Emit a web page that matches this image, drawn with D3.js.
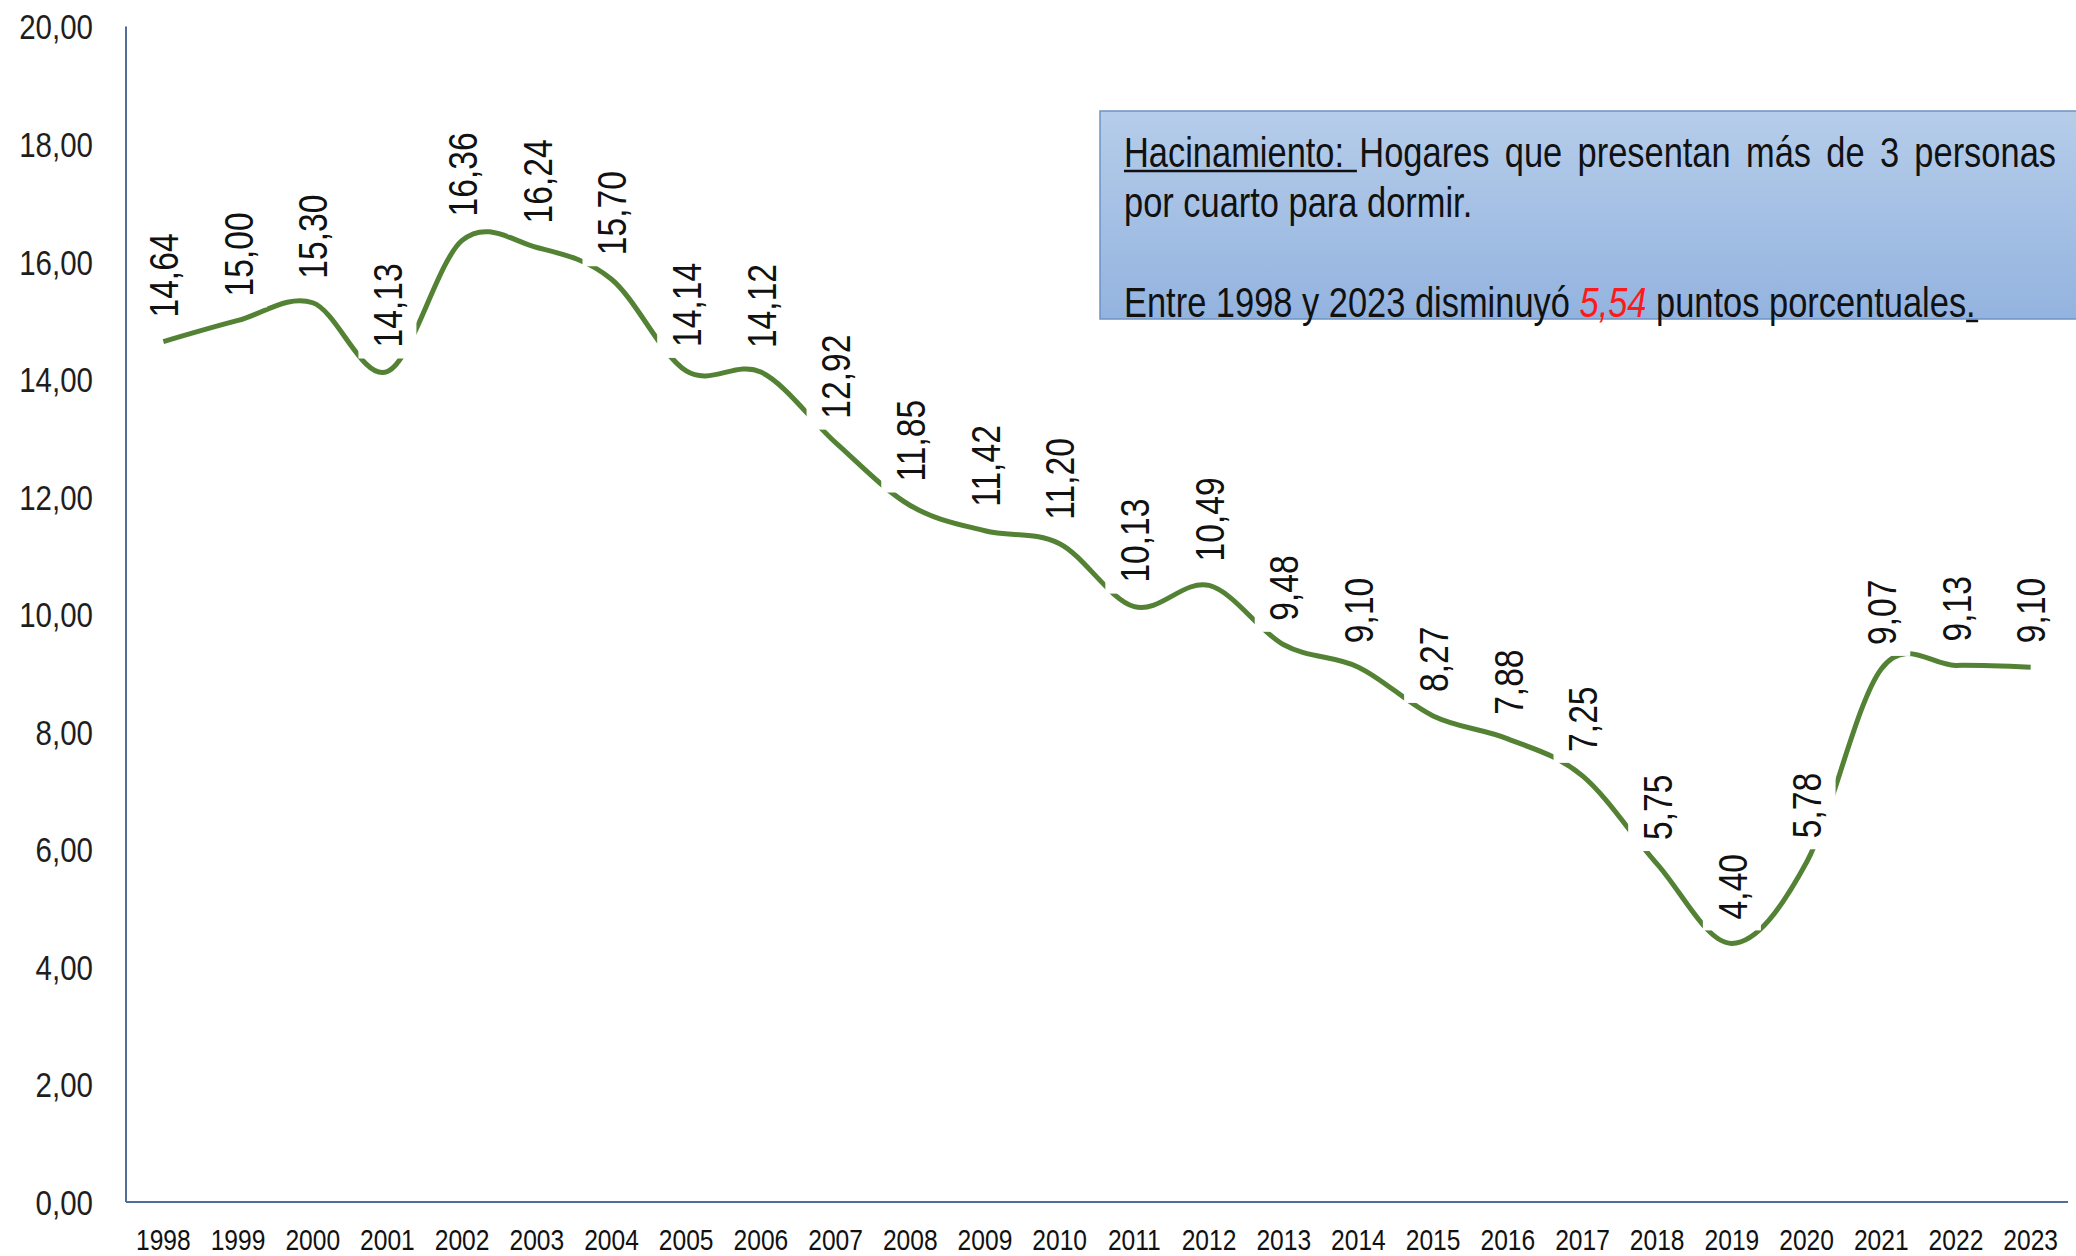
<!DOCTYPE html>
<head>
  <meta charset="utf-8">
  <title>Hacinamiento 1998-2023</title>
  <script src="https://d3js.org/d3.v7.min.js"></script>
  <style type="text/css">
    body { margin: 0; background: #fff; }
    svg { display: block; font-family: "Liberation Sans", Arial, sans-serif; }
    .axis-line { stroke: #4f6f95; stroke-width: 2px; fill: none; }
    .tick-label { font-size: 36px; fill: #1e1e1e; }
    .year-label { font-size: 30px; fill: #111; }
    .serie { fill: none; stroke: #548235; stroke-width: 5px; }
    .dato text { font-size: 41px; fill: #111; }
    .box-text { font-size: 42px; fill: #111; }
  </style>
</head>
<body>
  <div id="graph-container"></div>

<script>
// =================== Data ======================
const years = ["1998","1999","2000","2001","2002","2003","2004","2005","2006","2007","2008","2009","2010",
               "2011","2012","2013","2014","2015","2016","2017","2018","2019","2020","2021","2022","2023"];
const values = [14.64, 15.00, 15.30, 14.13, 16.36, 16.24, 15.70, 14.14, 14.12, 12.92, 11.85, 11.42, 11.20,
                10.13, 10.49, 9.48, 9.10, 8.27, 7.88, 7.25, 5.75, 4.40, 5.78, 9.07, 9.13, 9.10];
const yTicks = [0, 2, 4, 6, 8, 10, 12, 14, 16, 18, 20];

const noteLine1 = ["Hacinamiento:", "Hogares", "que", "presentan", "más", "de", "3", "personas"];
const noteLine2 = "por cuarto para dormir.";
const noteLine4 = ["Entre 1998 y 2023 disminuyó ", "5,54", " puntos porcentuales", "."];

// =================== Chart Prep ======================
let width = 2076,
    height = 1256,
    margin = { top: 26.5, right: 8, bottom: 54, left: 126 };

// the original uses a narrow font: squeeze Liberation Sans horizontally
const narrow = 0.82;

const fmt = d3.formatLocale({ decimal: ",", thousands: ".", grouping: [3], currency: ["", ""] }).format(".2f");

var svg = d3.select("#graph-container").append("svg")
    .attr("width", width)
    .attr("height", height);

var x = d3.scaleBand()
    .domain(years)
    .range([margin.left, width - margin.right]);

var y = d3.scaleLinear()
    .domain([0, 20])
    .range([height - margin.bottom, margin.top]);

// axis lines
svg.append("line").attr("class", "axis-line")
  .attr("x1", margin.left).attr("x2", margin.left)
  .attr("y1", y(20)).attr("y2", y(0));
svg.append("line").attr("class", "axis-line")
  .attr("x1", margin.left).attr("x2", width - margin.right)
  .attr("y1", y(0)).attr("y2", y(0));

// y tick labels
svg.selectAll(".tick-label")
    .data(yTicks)
  .enter().append("text")
    .attr("class", "tick-label")
    .attr("transform", d => "translate(" + (margin.left - 33) + "," + y(d) + ") scale(" + narrow + ",1)")
    .attr("dy", ".36em")
    .style("text-anchor", "end")
    .text(d => fmt(d));

// x labels
svg.selectAll(".year-label")
    .data(years)
  .enter().append("text")
    .attr("class", "year-label")
    .attr("transform", d => "translate(" + (x(d) + x.bandwidth() / 2) + "," + (height - 6) + ") scale(" + narrow + ",1)")
    .style("text-anchor", "middle")
    .text(d => d);

// smoothed line
var line = d3.line()
    .x((d, i) => x(years[i]) + x.bandwidth() / 2)
    .y(d => y(d))
    .curve(d3.curveCardinal.tension(0));

svg.append("path")
  .datum(values)
  .attr("class", "serie")
  .attr("d", line);

// data labels (white boxes cut the line like the excel labels)
var dato = svg.selectAll(".dato")
    .data(values)
  .enter().append("g")
    .attr("class", "dato")
    .attr("transform", (d, i) =>
      "translate(" + (x(years[i]) + x.bandwidth() / 2) + "," + (y(d) - 24) + ") rotate(-90)");

var boxes = dato.append("rect").attr("fill", "#fff");
var labels = dato.append("text")
    .attr("transform", "scale(" + narrow + ",1)")
    .attr("dy", ".36em")
    .text(d => fmt(d));

labels.each(function(d) {
  let w = this.getComputedTextLength() * narrow;
  d3.select(this.parentNode).select("rect")
    .attr("x", -11).attr("y", -29)
    .attr("width", w + 22).attr("height", 58);
});

// =================== Note box ======================
var defs = svg.append("defs");
var grad = defs.append("linearGradient")
    .attr("id", "boxgrad")
    .attr("x1", 0).attr("y1", 0).attr("x2", 0).attr("y2", 1);
grad.append("stop").attr("offset", "0%").attr("stop-color", "#b6cdea");
grad.append("stop").attr("offset", "100%").attr("stop-color", "#93b3df");

let boxX = 1100, boxY = 111, boxW = 990, boxH = 208;
svg.append("rect")
  .attr("x", boxX).attr("y", boxY)
  .attr("width", boxW).attr("height", boxH)
  .attr("fill", "url(#boxgrad)")
  .attr("stroke", "#6e93c4")
  .attr("stroke-width", 1.5);

let textX = 1124, textRight = 2056;
// note text lives in a squeezed group, local units = screen / narrow
var note = svg.append("g")
    .attr("transform", "translate(" + textX + ",0) scale(" + narrow + ",1)");
let localW = (textRight - textX) / narrow;

// line 1, justified word by word
var words = note.selectAll(".w1")
    .data(noteLine1)
  .enter().append("text")
    .attr("class", "box-text w1")
    .attr("y", 167)
    .text(d => d);
let widths = [];
words.each(function() { widths.push(this.getComputedTextLength()); });
let gap = (localW - d3.sum(widths)) / (widths.length - 1);
let pos = 0;
words.attr("x", (d, i) => { let p = pos; pos += widths[i] + gap; return p; });
// underline "Hacinamiento: " up to next word
note.append("line")
  .attr("x1", 0).attr("x2", widths[0] + gap - 3)
  .attr("y1", 171).attr("y2", 171)
  .attr("stroke", "#111").attr("stroke-width", 2.5);

// line 2
note.append("text")
  .attr("class", "box-text")
  .attr("x", 0).attr("y", 217)
  .text(noteLine2);

// line 4
var l4 = note.append("text")
  .attr("class", "box-text")
  .attr("x", 0).attr("y", 317);
l4.selectAll("tspan")
    .data(noteLine4)
  .enter().append("tspan")
    .attr("fill", (d, i) => i === 1 ? "#ff1a1a" : null)
    .style("font-style", (d, i) => i === 1 ? "italic" : null)
    .text(d => d);
// underline final period
let nChars = noteLine4.join("").length;
let before = l4.node().getSubStringLength(0, nChars - 1);
let dotW = l4.node().getSubStringLength(nChars - 1, 1);
note.append("line")
  .attr("x1", before).attr("x2", before + dotW + 3)
  .attr("y1", 321).attr("y2", 321)
  .attr("stroke", "#111").attr("stroke-width", 2.5);
</script>
</body>
